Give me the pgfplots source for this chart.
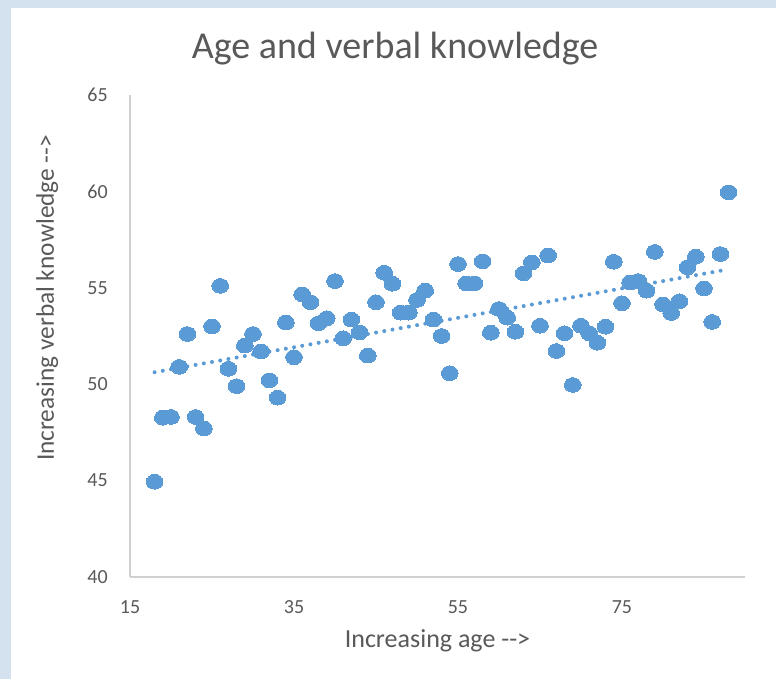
\documentclass[border=0pt]{standalone}
\usepackage{fontspec}
\setmainfont{Carlito}
\usepackage{pgfplots}
\pgfplotsset{compat=1.18}
\definecolor{mk}{HTML}{5B9BD5}
\definecolor{txt}{HTML}{595959}
\definecolor{axl}{HTML}{D0D0D0}
\definecolor{frame}{HTML}{D3E2EE}
\begin{document}
\begin{tikzpicture}[x=1pt,y=1pt]
\fill[frame] (0,0) rectangle (582,509.25);
\fill[white] (8.25,0) rectangle (582,503.25);
\useasboundingbox (0,0) rectangle (582,509.25);
\begin{axis}[
  at={(97.5pt,76.5pt)}, anchor=south west,
  scale only axis, width=461.25pt, height=361.5pt,
  xmin=15, xmax=90, ymin=40, ymax=65,
  xtick={15,35,55,75}, ytick={40,45,50,55,60,65},
  axis x line*=bottom, axis y line*=left,
  axis line style={axl, line width=1.2pt, -},
  major tick length=0pt,
  /pgf/number format/assume math mode=true,
  tick label style={font=\fontsize{15}{17}\selectfont, text=txt},
  xticklabel style={anchor=base, yshift=-27.5pt, inner sep=0pt},
  yticklabel style={anchor=east, xshift=-16.5pt, inner sep=0pt},
  title={Age and verbal knowledge},
  title style={at={(axis description cs:0.431,1.0600)}, anchor=base, inner sep=0pt,
    font=\fontsize{28.5}{30}\selectfont, text=txt},
  xlabel={Increasing age -{}->},
  xlabel style={at={(axis description cs:0.5,-0.1466)}, anchor=base, inner sep=0pt,
    font=\fontsize{19.5}{21}\selectfont, text=txt},
  ylabel={Increasing verbal knowledge -{}->},
  ylabel style={at={(axis description cs:-0.1236,0.579)}, anchor=base, inner sep=0pt,
    font=\fontsize{19}{21}\selectfont, text=txt},
  clip=false,
]
\addplot[only marks, mark=*, mark size=5.5pt, mark options={fill=mk, draw=mk, line width=0pt, xscale=1.14}]
coordinates {
(18,44.94) (19,48.26) (20,48.30) (21,50.90) (22,52.60) (23,48.30) (24,47.70) (25,53.00)
(26,55.10) (27,50.80) (28,49.90) (29,52.00) (30,52.60) (31,51.70) (32,50.20) (33,49.30)
(34,53.20) (35,51.40) (36,54.66) (37,54.25) (38,53.16) (39,53.42) (40,55.35) (41,52.38)
(42,53.35) (43,52.69) (44,51.48) (45,54.25) (46,55.78) (47,55.21) (48,53.71) (49,53.71)
(50,54.37) (51,54.85) (52,53.35) (53,52.50) (54,50.57) (55,56.23) (56,55.23) (57,55.23)
(58,56.37) (59,52.67) (60,53.90) (61,53.45) (62,52.72) (63,55.75) (64,56.32) (65,53.03)
(66,56.68) (67,51.72) (68,52.64) (69,49.96) (70,53.03) (71,52.64) (72,52.15) (73,52.98)
(74,56.35) (75,54.20) (76,55.27) (77,55.35) (78,54.85) (79,56.86) (80,54.14) (81,53.69)
(82,54.30) (83,56.06) (84,56.61) (85,54.97) (86,53.23) (87,56.75) (88,59.95)
};
\addplot[mk, line width=3pt, dash pattern=on 0pt off 6.25pt, line cap=round]
coordinates {(18,50.62) (88,55.96)};
\end{axis}
\end{tikzpicture}
\end{document}
